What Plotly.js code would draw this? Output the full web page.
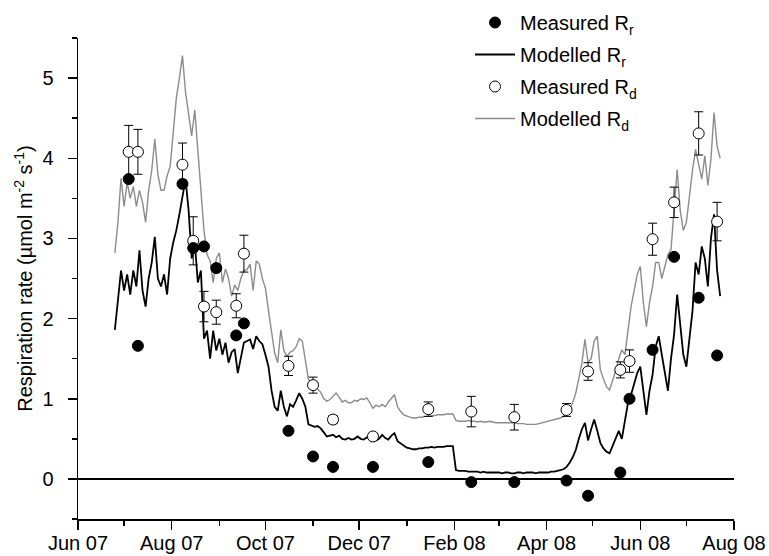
<!DOCTYPE html>
<html>
<head>
<meta charset="utf-8">
<script src="https://cdn.plot.ly/plotly-3.0.1.min.js"></script>
<style>body{margin:0;padding:0;background:#fff}#chart{width:769px;height:556px}</style>
</head>
<body>
<div id="chart"></div>
<script>
// Measurement dates
const measDates = ['2007-07-04','2007-07-10','2007-08-08','2007-08-15','2007-08-22','2007-08-30','2007-09-12','2007-09-17','2007-10-16','2007-11-01','2007-11-14','2007-12-10','2008-01-15','2008-02-12','2008-03-11','2008-04-14','2008-04-28','2008-05-19','2008-05-25','2008-06-09','2008-06-23','2008-07-09','2008-07-21'];
const measuredRr = [3.74,1.66,3.68,2.88,2.90,2.63,1.79,1.94,0.60,0.28,0.15,0.15,0.21,-0.04,-0.04,-0.02,-0.21,0.08,1.00,1.61,2.77,2.26,1.54];
const measuredRd = [4.08,4.08,3.92,2.97,2.15,2.08,2.16,2.81,1.41,1.17,0.74,0.53,0.87,0.84,0.77,0.86,1.34,1.36,1.47,2.99,3.45,4.31,3.21];
const measuredRdErr = [0.33,0.28,0.27,0.30,0.19,0.15,0.15,0.23,0.12,0.10,0.05,0.04,0.09,0.19,0.16,0.08,0.11,0.10,0.14,0.20,0.19,0.27,0.24];

// Modelled series, sampled every 2 days from 2007-06-25
const modelStart = '2007-06-25';
const modelStepDays = 2;
const modelledRr = [
 1.86,2.2,2.6,2.35,2.55,2.3,2.6,2.4,2.85,2.35,2.15,2.5,2.7,3.02,2.5,2.4,2.55,2.3,2.75,2.95,3.1,3.3,3.55,3.74,
 3.35,2.75,2.95,2.45,2.6,1.75,1.85,1.5,1.85,1.6,1.75,1.55,1.7,1.45,1.58,1.62,1.32,1.5,1.7,1.72,1.74,1.62,1.78,1.72,1.68,1.55,
 1.4,1.1,0.9,0.85,1.1,0.9,0.78,0.93,0.9,0.98,1.07,1.0,0.9,0.68,0.66,0.65,0.66,0.63,0.58,0.53,0.54,0.55,0.52,0.54,
 0.5,0.49,0.51,0.49,0.5,0.53,0.5,0.49,0.52,0.5,0.52,0.48,0.5,0.55,0.51,0.49,0.54,0.57,0.47,0.44,0.41,0.39,0.38,0.37,0.37,0.38,0.38,0.39,0.39,0.4,0.39,0.4,0.4,0.4,0.41,0.41,0.41,
 0.11,0.10,0.10,0.10,0.09,0.09,0.09,0.09,0.08,0.09,0.08,0.08,0.08,0.08,0.08,0.07,0.08,0.08,0.07,0.07,0.08,0.08,0.07,0.08,0.08,0.08,0.07,0.08,0.08,0.08,
 0.08,0.09,0.09,0.10,0.11,0.12,0.15,0.2,0.27,0.36,0.5,0.62,0.7,0.48,0.62,0.74,0.6,0.45,0.38,0.34,0.32,0.42,0.5,0.6,0.5,0.75,0.95,1.05,1.2,1.32,1.4,1.1,0.8,1.1,1.3,1.65,1.78,1.55,1.3,1.1,1.5,1.8,2.3,1.9,1.55,1.4,1.75,2.1,2.7,2.55,2.9,2.75,2.4,3.0,3.3,2.6,2.28
];
const modelledRd = [
 2.82,3.2,3.75,3.4,3.7,3.5,3.65,3.4,3.6,3.45,3.2,3.6,3.85,4.24,3.8,3.6,3.6,3.78,3.9,4.3,4.75,5.0,5.28,4.82,
 4.55,4.28,4.6,4.11,3.6,3.1,2.8,2.72,2.45,2.75,2.82,2.45,2.62,2.5,2.28,2.42,2.35,2.5,2.6,2.61,2.68,2.35,2.72,2.68,2.5,2.38,
 2.1,1.8,1.57,1.45,1.86,1.6,1.53,1.58,1.6,1.65,1.75,1.72,1.5,1.24,1.2,1.18,1.12,1.08,1.0,0.97,0.99,1.03,1.07,1.02,
 0.96,0.98,0.95,0.95,0.98,0.97,1.0,0.99,1.01,0.95,0.88,0.92,0.9,0.93,0.9,0.96,1.0,1.05,0.9,0.84,0.8,0.78,0.77,0.76,0.76,0.77,0.77,0.78,0.78,0.79,0.79,0.8,0.8,0.8,0.81,0.81,0.81,
 0.73,0.72,0.72,0.72,0.73,0.72,0.72,0.71,0.72,0.71,0.71,0.72,0.71,0.7,0.7,0.7,0.7,0.7,0.7,0.7,0.69,0.69,0.69,0.68,0.68,0.68,0.68,0.69,0.7,0.71,
 0.72,0.73,0.74,0.75,0.76,0.78,0.82,0.86,0.95,1.07,1.25,1.45,1.74,1.45,1.5,1.72,1.78,1.36,1.25,1.15,1.11,1.22,1.35,1.5,1.61,1.55,1.86,2.15,2.35,2.55,2.65,2.2,1.9,2.2,2.4,2.7,2.7,2.5,2.65,2.8,2.86,3.4,3.86,3.35,3.1,3.2,3.55,3.85,4.11,3.9,3.74,4.03,3.66,3.99,4.57,4.15,4.0
];

const legendNames = ['Measured R<sub>r</sub>','Modelled R<sub>r</sub>','Measured R<sub>d</sub>','Modelled R<sub>d</sub>'];
const yTitle = 'Respiration rate (µmol m<sup>-2</sup> s<sup>-1</sup>)';
const xRange = ['2007-06-01','2008-08-01'];

function modelDates(n){
  const out = [];
  const t0 = Date.parse(modelStart + 'T00:00:00Z');
  for (let i = 0; i < n; i++) {
    const d = new Date(t0 + i * modelStepDays * 86400000);
    out.push(d.toISOString().slice(0,10));
  }
  return out;
}
const mDates = modelDates(modelledRr.length);

const traces = [
  {x: mDates, y: modelledRd, type:'scatter', mode:'lines', name: legendNames[3], legendrank: 4, legendgroup:'d',
   line:{color:'#8c8c8c', width:1.4}},
  {x: mDates, y: modelledRr, type:'scatter', mode:'lines', name: legendNames[1], legendrank: 2, legendgroup:'b',
   line:{color:'#000000', width:1.8}},
  {x: measDates, y: measuredRd, type:'scatter', mode:'markers', name: legendNames[2], legendrank: 3, legendgroup:'c',
   marker:{symbol:'circle', size:11, color:'#ffffff', line:{color:'#000000', width:1}},
   error_y:{type:'data', array: measuredRdErr, visible:true, color:'#000000', thickness:1, width:4.5}},
  {x: measDates, y: measuredRr, type:'scatter', mode:'markers', name: legendNames[0], legendrank: 1, legendgroup:'a',
   xaxis:'x2', yaxis:'y',
   marker:{symbol:'circle', size:11, color:'#000000', line:{color:'#000000', width:1}}}
];

const layout = {
  width: 769, height: 556,
  margin: {l:78, r:35, t:38, b:37, autoexpand:false},
  paper_bgcolor:'#ffffff', plot_bgcolor:'#ffffff',
  font: {family:'Liberation Sans, Arial, sans-serif', size:20, color:'#000000'},
  showlegend: true,
  legend: {xref:'container', yref:'container', x: 470/769, y: 1 - 3/556, xanchor:'left', yanchor:'top',
           bgcolor:'rgba(0,0,0,0)', borderwidth:0, font:{size:20}, tracegroupgap:3, itemwidth:40},
  xaxis: {type:'date', range:xRange, tick0:'2007-06-01', dtick:'M2',
          showticklabels:false, automargin:false,
          ticks:'outside', ticklen:9, tickwidth:1.5, tickcolor:'#000', showline:true, linecolor:'#000', linewidth:1.5,
          showgrid:false, zeroline:false,
          minor:{dtick:'M1', tick0:'2007-06-01', ticks:'outside', ticklen:5, tickwidth:1.5, tickcolor:'#000', showgrid:false}},
  xaxis2: {type:'date', range:xRange, overlaying:'x', anchor:'y', side:'bottom', tick0:'2007-06-01', dtick:'M2', tickformat:'%b %y',
          tickangle:0, automargin:false, ticks:'outside', ticklen:6, tickcolor:'rgba(0,0,0,0)',
          showline:false, showgrid:false, zeroline:false, tickfont:{size:20}},
  yaxis: {range:[-0.5,5.5], tick0:0, dtick:1, ticks:'outside', ticklen:9, tickwidth:1.5, tickcolor:'#000',
          automargin:false, ticklabelstandoff:10,
          showline:true, linecolor:'#000', linewidth:1.5, showgrid:false,
          zeroline:true, zerolinecolor:'#000', zerolinewidth:1.5, tickfont:{size:20},
          minor:{dtick:0.5, tick0:0, ticks:'outside', ticklen:5, tickwidth:1.5, tickcolor:'#000', showgrid:false},
          title:{text:yTitle, font:{size:20}, standoff:4}}
};

Plotly.newPlot('chart', traces, layout, {displayModeBar:false, staticPlot:true});
</script>
</body>
</html>
